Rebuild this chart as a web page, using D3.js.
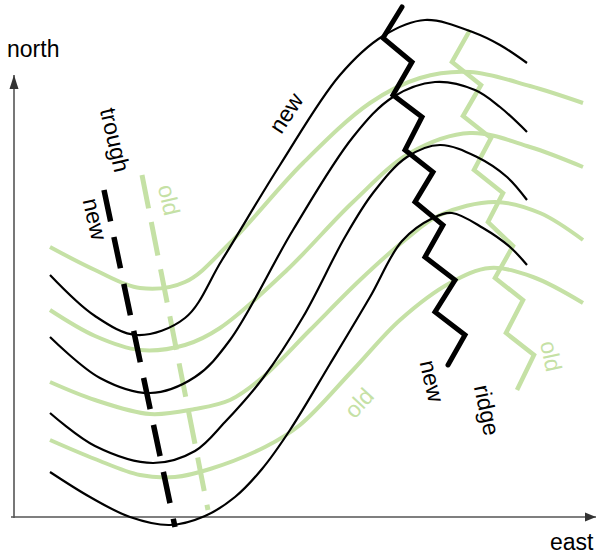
<!DOCTYPE html>
<html>
<head>
<meta charset="utf-8">
<script src="https://cdn.jsdelivr.net/npm/d3@7"></script>
<style>
  html, body { margin: 0; padding: 0; background: #fff; }
  svg { display: block; }
  text { font-family: "Liberation Sans", Arial, Helvetica, sans-serif; }
</style>
</head>
<body>
<svg id="chart" width="597" height="557"></svg>
<script>
// ---- data (east, north) ----
const newWave1 = [[36,242],[81,201],[123,182],[171,199],[208,257],[266,352],[326,442],[369,481],[411,497],[461,484],[486,472],[513,454]];
const newWave2 = [[36,180],[86,139],[136,124],[181,140],[216,177],[279,287],[339,380],[379,420],[421,435],[461,427],[486,410],[513,385]];
const newWave3 = [[36,104],[81,71],[139,54],[181,66],[211,95],[249,139],[289,200],[331,280],[359,324],[393,360],[426,372],[463,360],[493,340],[513,317]];
const newWave4 = [[36,45],[76,20],[116,0],[156,-8],[191,1],[221,20],[248,48],[276,87],[316,153],[356,220],[388,276],[419,299],[438,304],[469,289],[496,270],[513,252]];

const oldWave1 = [[36,270],[81,247],[126,229],[171,235],[216,274],[289,354],[356,414],[406,439],[456,445],[516,431],[569,414]];
const oldWave2 = [[36,207],[81,181],[126,167],[171,172],[206,189],[273,247],[339,315],[396,364],[456,384],[516,370],[569,350]];
const oldWave3 = [[36,135],[81,117],[136,103],[181,108],[216,117],[249,140],[296,187],[346,237],[391,277],[426,302],[481,315],[526,304],[569,277]];
const oldWave4 = [[36,77],[81,58],[126,42],[161,40],[196,48],[251,70],[286,92],[339,147],[386,197],[436,234],[476,249],[519,240],[569,214]];

const newRidge = [[388,510],[369,479],[398,455],[379,422],[408,400],[391,367],[419,345],[401,315],[429,292],[411,260],[441,237],[421,205],[451,182],[434,152]];
const oldRidge = [[456,487],[438,455],[467,432],[449,401],[477,379],[460,347],[489,324],[474,295],[499,271],[481,239],[509,217],[492,184],[520,162],[503,127]];

const newTrough = [[90,327],[161,-10]];
const oldTrough = [[128,342],[194,7]];

const axisEast = [[-3,0],[582,0]];
const axisNorth = [[0,-1],[0,442]];

const labelText  = ["trough","new","old","new","old","new","ridge","old"];
const labelEast  = [101, 81, 155, 272, 345, 418, 473, 537];
const labelNorth = [377, 298, 317, 404, 114, 136, 107, 161];
const labelAngle = [77, 77, 77, -57, -47, 77, 78, 78];
const labelKind  = ["new","new","old","new","old","new","new","old"];

const axisTitles = ["north","east"];

// ---- drawing ----
const GREEN = "#c5e1a5";
const svg = d3.select("#chart");
const x = d3.scaleLinear().domain([0, 583]).range([14, 597]);
const y = d3.scaleLinear().domain([0, 517]).range([517, 0]);

const smooth = d3.line().x(d => x(d[0])).y(d => y(d[1])).curve(d3.curveCatmullRom.alpha(0.5));
const straight = d3.line().x(d => x(d[0])).y(d => y(d[1]));

// axes
svg.append("path").attr("d", straight(axisNorth))
  .attr("stroke", "#555").attr("stroke-width", 1.6).attr("fill", "none");
svg.append("path").attr("d", straight(axisEast))
  .attr("stroke", "#555").attr("stroke-width", 1.6).attr("fill", "none");
// arrowheads
const tipN = axisNorth[1], tipE = axisEast[1];
svg.append("path")
  .attr("d", `M${x(tipN[0])},${y(tipN[1])} L${x(tipN[0]) - 4.5},${y(tipN[1]) + 14} L${x(tipN[0]) + 4.5},${y(tipN[1]) + 14} Z`)
  .attr("fill", "#333");
svg.append("path")
  .attr("d", `M${x(tipE[0])},${y(tipE[1])} L${x(tipE[0]) - 11},${y(tipE[1]) - 4.5} L${x(tipE[0]) - 11},${y(tipE[1]) + 4.5} Z`)
  .attr("fill", "#333");

// old (green) waves
[oldWave1, oldWave2, oldWave3, oldWave4].forEach(w => {
  svg.append("path").attr("d", smooth(w))
    .attr("fill", "none").attr("stroke", GREEN).attr("stroke-width", 4);
});
// old ridge
svg.append("path").attr("d", straight(oldRidge))
  .attr("fill", "none").attr("stroke", GREEN).attr("stroke-width", 4.5)
  .attr("stroke-linejoin", "miter").attr("stroke-linecap", "butt");
// old trough
svg.append("path").attr("d", straight(oldTrough))
  .attr("fill", "none").attr("stroke", GREEN).attr("stroke-width", 5)
  .attr("stroke-dasharray", "34,14");

// new (black) waves
[newWave1, newWave2, newWave3, newWave4].forEach(w => {
  svg.append("path").attr("d", smooth(w))
    .attr("fill", "none").attr("stroke", "#000").attr("stroke-width", 2.2);
});
// new trough
svg.append("path").attr("d", straight(newTrough))
  .attr("fill", "none").attr("stroke", "#000").attr("stroke-width", 5.5)
  .attr("stroke-dasharray", "32,16");
// new ridge
svg.append("path").attr("d", straight(newRidge))
  .attr("fill", "none").attr("stroke", "#000").attr("stroke-width", 5)
  .attr("stroke-linejoin", "miter").attr("stroke-linecap", "round");

// labels
labelText.forEach((t, i) => {
  svg.append("text")
    .attr("transform", `translate(${x(labelEast[i])},${y(labelNorth[i])}) rotate(${labelAngle[i]})`)
    .attr("text-anchor", "middle")
    .attr("dominant-baseline", "central")
    .attr("font-size", 23)
    .attr("fill", labelKind[i] === "old" ? GREEN : "#000")
    .text(t);
});

// axis titles
svg.append("text").attr("x", x(-7)).attr("y", y(460)).attr("font-size", 23).attr("fill", "#000").text(axisTitles[0]);
svg.append("text").attr("x", x(536)).attr("y", y(-33)).attr("font-size", 23).attr("fill", "#000").text(axisTitles[1]);
</script>
</body>
</html>
